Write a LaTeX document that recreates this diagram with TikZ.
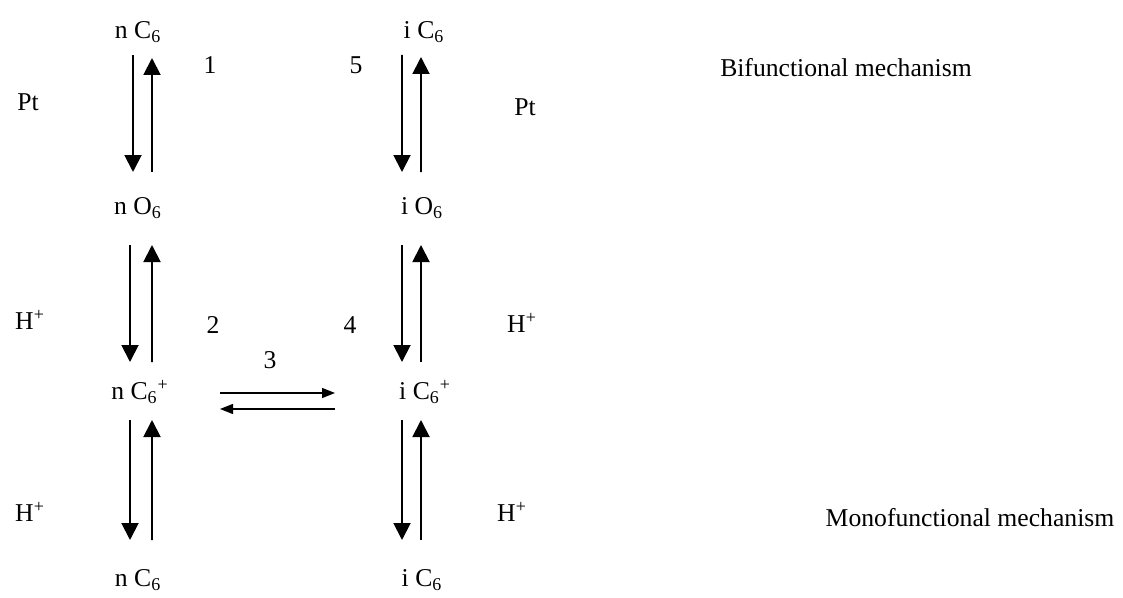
\documentclass[tikz,border=0pt]{standalone}
\usepackage{fontspec}
\setmainfont{Liberation Serif}
\usepackage{tikz}
\usetikzlibrary{positioning, arrows.meta}
\usepackage{xcolor}

\begin{document}
\begin{tikzpicture}[font=\fontsize{14.6}{18}\selectfont,
            big/.style={-{Triangle[length=0.34cm,width=0.34cm]}, line width=1.1pt},
            small/.style={-{Triangle[length=0.26cm,width=0.2cm]}, line width=0.8pt}]
            \useasboundingbox (0,0) rectangle (22.46,11.94);

            % normal hexane column
            \node (nC6) at (2.76,11.30) {n C\textsubscript{6}};
            \node (nO6) at (2.76,7.78) {n O\textsubscript{6}};
            \node (nC6p) at (2.8,4.10) {n C\textsubscript{6}\textsuperscript{+}};
            \node (nC6b) at (2.76,0.34) {n C\textsubscript{6}};

            % iso hexane column
            \node (iC6) at (8.48,11.30) {i C\textsubscript{6}};
            \node (iO6) at (8.44,7.78) {i O\textsubscript{6}};
            \node (iC6p) at (8.5,4.10) {i C\textsubscript{6}\textsuperscript{+}};
            \node (iC6b) at (8.44,0.34) {i C\textsubscript{6}};

            % left side
            \draw[big] ([shift={(-0.1,-0.46)}]nC6.center) -- ([shift={(-0.1,0.72)}]nO6.center);
            \draw[big] ([shift={(0.28,0.72)}]nO6.center) -- ([shift={(0.28,-0.52)}]nC6.center);
            \draw[big] ([shift={(-0.16,-0.74)}]nO6.center) -- ([shift={(-0.2,0.6)}]nC6p.center);
            \draw[big] ([shift={(0.24,0.6)}]nC6p.center) -- ([shift={(0.28,-0.74)}]nO6.center);
            \draw[big] ([shift={(-0.2,-0.56)}]nC6p.center) -- ([shift={(-0.16,0.8)}]nC6b.center);
            \draw[big] ([shift={(0.28,0.8)}]nC6b.center) -- ([shift={(0.24,-0.56)}]nC6p.center);

            % right side
            \draw[big] ([shift={(-0.44,-0.46)}]iC6.center) -- ([shift={(-0.4,0.72)}]iO6.center);
            \draw[big] ([shift={(-0.02,0.72)}]iO6.center) -- ([shift={(-0.06,-0.5)}]iC6.center);
            \draw[big] ([shift={(-0.4,-0.74)}]iO6.center) -- ([shift={(-0.46,0.6)}]iC6p.center);
            \draw[big] ([shift={(-0.08,0.6)}]iC6p.center) -- ([shift={(-0.02,-0.74)}]iO6.center);
            \draw[big] ([shift={(-0.46,-0.56)}]iC6p.center) -- ([shift={(-0.4,0.8)}]iC6b.center);
            \draw[big] ([shift={(-0.02,0.8)}]iC6b.center) -- ([shift={(-0.08,-0.56)}]iC6p.center);

            % isomerisation
            \draw[small] ([shift={(1.6,-0.02)}]nC6p.center) -- ([shift={(-1.8,-0.02)}]iC6p.center);
            \draw[small] ([shift={(-1.8,-0.34)}]iC6p.center) -- ([shift={(1.6,-0.34)}]nC6p.center);

            % labels
            \node (one) at (4.2,10.64) {1};
            \node (two) at (4.26,5.44) {2};
            \node (three) at (5.4,4.74) {3};
            \node (four) at (7.0,5.44) {4};
            \node (five) at (7.12,10.64) {5};
            \node (PtL) at (0.56,9.9) {Pt};
            \node (PtR) at (10.5,9.8) {Pt};
            \node (HLa) at (0.6,5.54) {H\textsuperscript{+}};
            \node (HLb) at (0.6,1.7) {H\textsuperscript{+}};
            \node (HRa) at (10.44,5.48) {H\textsuperscript{+}};
            \node (HRb) at (10.24,1.7) {H\textsuperscript{+}};
            \node (bif) at (16.92,10.58) {Bifunctional mechanism};
            \node (mono) at (19.4,1.58) {Monofunctional mechanism};
        \end{tikzpicture}
\end{document}
